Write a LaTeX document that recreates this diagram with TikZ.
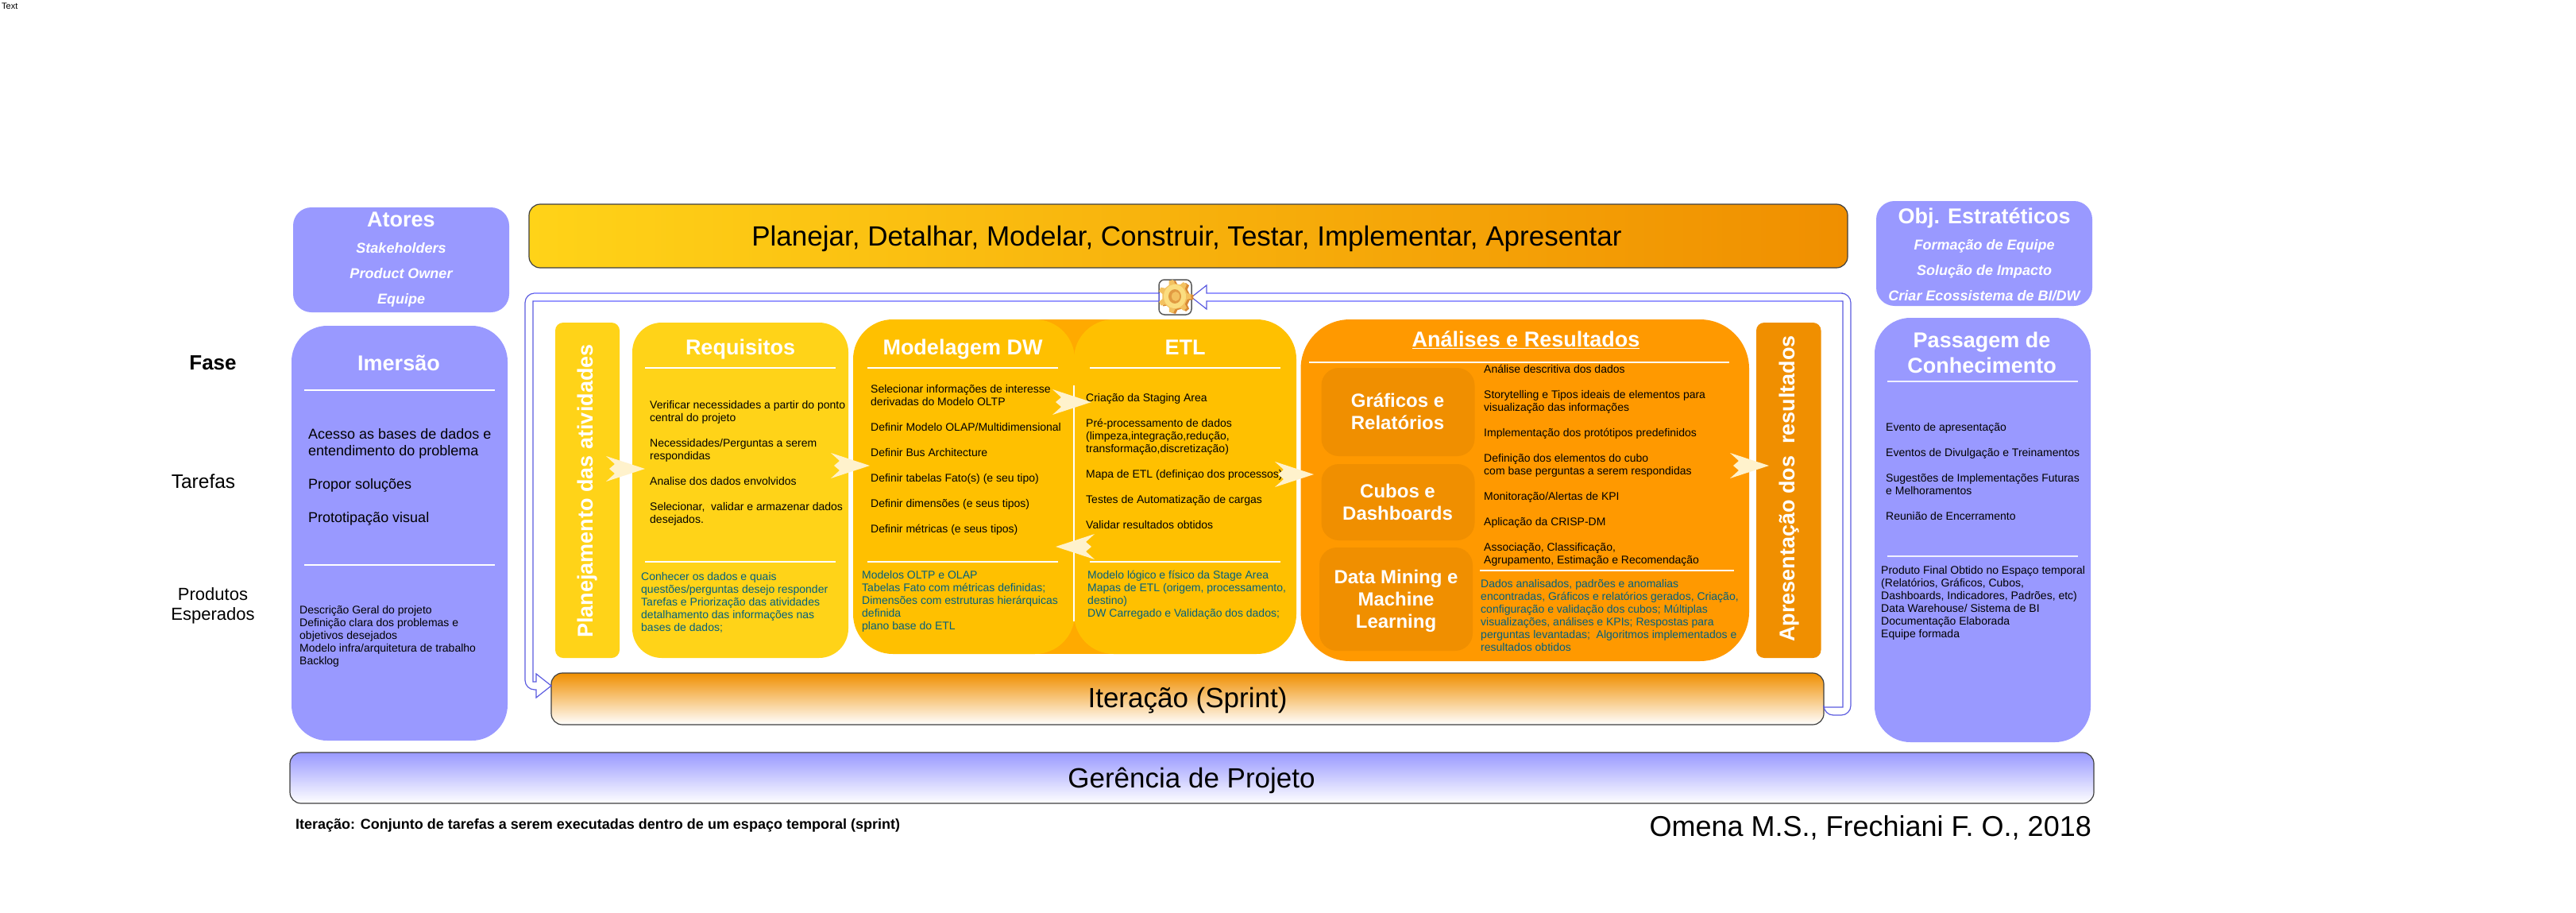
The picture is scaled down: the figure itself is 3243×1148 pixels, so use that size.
\documentclass[tikz,border=0pt]{standalone}
\usepackage{fontspec}
\setmainfont{Liberation Sans}
\definecolor{lilac}{HTML}{9999FF}
\definecolor{sunny}{HTML}{FFD318}
\definecolor{amber}{HTML}{FFC000}
\definecolor{amberdk}{HTML}{FFAA00}
\definecolor{tangerine}{HTML}{FF9900}
\definecolor{burnt}{HTML}{F08F00}
\definecolor{teal1}{HTML}{00607F}
\definecolor{cream}{HTML}{FFF2CC}
\definecolor{loopblue}{HTML}{5B5BE0}
\definecolor{gearlight}{HTML}{FBDD80}
\definecolor{gearmid}{HTML}{F3C160}
\definecolor{geardark}{HTML}{D98A35}
\usetikzlibrary{calc}
\newcommand{\rbox}[6][]{\node[rboxbase,#1,minimum width={(#4-#2)*1pt},minimum height={(#5-#3)*1pt}] (#6) at ({(#2+#4)/2},{(#3+#5)/2}) {};}
\newcommand{\fletch}[4]{% tip x, y, direction (+1 points right), name
  \begin{scope}[shift={(#1,#2)},xscale=#3]
    \fill[cream] (-49,-16) -- (0,0) -- (-49,16) -- (-38,6) -- (-45,0) -- (-38,-6) -- cycle;
  \end{scope}}
\newcommand{\gearshape}[1]{\fill[#1] (0:20) \foreach \a in {0,51.43,...,310} {
       -- ({\a+7}:21) -- ({\a+14}:16) -- ({\a+37}:16) -- ({\a+44}:21)
     } -- cycle;}
\tikzset{
  rboxbase/.style={inner sep=0pt,outer sep=0pt},
  lilacbox/.style={fill=lilac},
  sep/.style={draw=white,line width=2pt},
  sepsoft/.style={draw=white!85!lilac,line width=2pt},
  bodytext/.style={inner sep=0pt,anchor=north west,align=left,text=black,font=\fontsize{14}{16}\selectfont},
  delivtext/.style={bodytext,text=teal1},
  largetext/.style={inner sep=0pt,anchor=north west,align=left,text=black,font=\fontsize{18}{21}\selectfont},
  titletext/.style={inner sep=0pt,align=center,text=white,font=\fontsize{27}{31}\selectfont\bfseries},
  subtext/.style={inner sep=0pt,text=white,font=\fontsize{18}{21}\selectfont\bfseries\itshape},
  vertitle/.style={inner sep=0pt,rotate=90,text=white,font=\fontsize{27}{31}\selectfont\bfseries},
  innertitle/.style={inner sep=0pt,align=center,text=white,font=\fontsize{24}{28}\selectfont\bfseries},
  bartext/.style={inner sep=0pt,text=black,font=\fontsize{35}{40}\selectfont},
  sidelabel/.style={inner sep=0pt,align=center,text=black},
  flex/.style={draw=loopblue,line width=1.2pt,fill=white,line join=miter},
  flexsoft/.style={draw=lilac,line width=2.4pt},
}
\begin{document}
\begin{tikzpicture}[x=1pt,y=-1pt]
\useasboundingbox (0,0) rectangle (3243,1148);
\fill[white] (0,0) rectangle (3243,1148);

\node[inner sep=0pt,anchor=west,font=\fontsize{11}{13}\selectfont] (corner) at (2,8) {Text};

% labels on the left
\node[sidelabel,font=\fontsize{26}{30}\selectfont\bfseries] (fase) at (268,457) {Fase};
\node[sidelabel,font=\fontsize{24.5}{28}\selectfont] (tarefas) at (256,606) {Tarefas};
\node[sidelabel,font=\fontsize{22}{25}\selectfont] (produtos) at (268,762.5) {Produtos\\Esperados};

% top bar
\rbox[draw=black!75,line width=1.2pt,rounded corners=14pt,left color=sunny,right color=burnt]{666}{257}{2326}{337}{planbar}
\node[bartext] (plantext) at (1494,300) {Planejar, Detalhar, Modelar, Construir, Testar, Implementar, Apresentar};

% gear box (its arrows come first so that the box lies on them)
\rbox[draw=black!65,line width=1.5pt,rounded corners=7pt,fill=white]{1459}{352}{1500}{396}{gearbox}
\rbox[draw=black!75,line width=1.2pt,rounded corners=14pt,top color=burnt,bottom color=white]{694}{847}{2296}{912}{iter}

% loop arrow: iteration bar round the right to the gear
\draw[flex] (gearbox.east) -- (1519,359) -- (1519,369) -- (2320,369)
  [rounded corners=12pt] -- (2330,369) -- (2330,900) -- (iter.east |- 0,900)
  [sharp corners] -- (iter.east |- 0,890) -- (2320,890) -- (2320,379) -- (1519,379) -- (1519,389) -- cycle;
\draw[flexsoft] (1520,369) -- (2318,369) (1520,379) -- (2318,379);
% loop arrow: gear round the left to the iteration bar
\draw[flex] (iter.west |- 0,863) -- (675,848) -- (675,858) -- (671,858) -- (671,379) -- (gearbox.west |- 0,379)
  -- (gearbox.west |- 0,369) [rounded corners=12pt] -- (661,369) -- (661,868) [sharp corners] -- (675,868) -- (675,878) -- cycle;
\draw[flexsoft] (672,369) -- (1458,369) (672,379) -- (1458,379);

% gear symbol
\begin{scope}[shift={(1482,374)}]
  \gearshape{geardark}
\end{scope}
\begin{scope}[shift={(1479,373)}]
  \gearshape{gearmid}
  \fill[gearlight] (0,0) circle[x radius=14,y radius=15];
  \fill[geardark!70!gearmid] (0,0) circle[x radius=8,y radius=9];
  \fill[gearmid] (1,0) circle[x radius=5,y radius=6];
\end{scope}

% actors and objectives
\rbox[lilacbox,rounded corners=23pt]{369}{261}{641}{393}{atores}
\node[titletext] (atorest) at (505,279) {\strut Atores};
\node[subtext] (at1) at (505,314) {\strut Stakeholders};
\node[subtext] (at2) at (505,346) {\strut Product Owner};
\node[subtext] (at3) at (505,378) {\strut Equipe};

\rbox[lilacbox,rounded corners=23pt]{2362}{253}{2634}{385}{obj}
\node[titletext] (objt) at (2498,275) {\strut Obj. Estratéticos};
\node[subtext] (ob1) at (2498,310) {\strut Formação de Equipe};
\node[subtext] (ob2) at (2498,342) {\strut Solução de Impacto};
\node[subtext] (ob3) at (2498,374) {\strut Criar Ecossistema de BI/DW};

% Imersao
\rbox[lilacbox,rounded corners=45pt]{367}{410}{639}{932}{imersao}
\node[titletext] (imt) at (502,460) {\strut Imersão};
\draw[sep] (383,491) -- (623,491) (383,711) -- (623,711);
\node[largetext] (imlist) at (388,538) {\strut Acesso as bases de dados e\\entendimento do problema\\[21pt]Propor soluções\\[21pt]Prototipação visual};
\node[bodytext] (imdel) at (377,761) {\strut Descrição Geral do projeto\\Definição clara dos problemas e\\objetivos desejados\\Modelo infra/arquitetura de trabalho\\Backlog};

% Passagem
\rbox[lilacbox,rounded corners=45pt]{2360}{400}{2632}{934}{passagem}
\node[titletext,font=\fontsize{27}{32}\selectfont\bfseries] (pat) at (2495,447.5) {\strut Passagem de\\\strut Conhecimento};
\draw[sepsoft] (2376,480) -- (2616,480) (2376,700) -- (2616,700);
\node[bodytext] (palist) at (2374,531) {\strut Evento de apresentação\\[16pt]Eventos de Divulgação e Treinamentos\\[16pt]Sugestões de Implementações Futuras\\e Melhoramentos\\[16pt]Reunião de Encerramento};
\node[bodytext] (padel) at (2368,711) {\strut Produto Final Obtido no Espaço temporal\\(Relatórios, Gráficos, Cubos,\\Dashboards, Indicadores, Padrões, etc)\\Data Warehouse/ Sistema de BI\\Documentação Elaborada\\Equipe formada};

% Planejamento
\rbox[fill=sunny,rounded corners=10pt]{699}{406}{780}{828}{planej}
\node[vertitle] (planejt) at (740,618) {\strut Planejamento das atividades};

% Requisitos
\rbox[fill=sunny,rounded corners=37pt]{796}{406}{1068}{828}{requisitos}
\node[titletext] (rqt) at (932,440) {\strut Requisitos};
\draw[sep] (812,463) -- (1052,463) (812,707) -- (1052,707);
\node[bodytext] (rqlist) at (818,503.5) {\strut Verificar necessidades a partir do ponto\\central do projeto\\[16pt]Necessidades/Perguntas a serem\\respondidas\\[16pt]Analise dos dados envolvidos\\[16pt]Selecionar,\ \ validar e armazenar dados\\desejados.};
\node[delivtext] (rqdel) at (807,719) {\strut Conhecer os dados e quais\\questões/perguntas desejo responder\\Tarefas e Priorização das atividades\\detalhamento das informações nas\\bases de dados;};

% Modelagem + ETL
\fill[amberdk] (1303,402) rectangle (1400,823);
\rbox[fill=amber,rounded corners=50pt]{1074}{402}{1353}{823}{modelagem}
\rbox[fill=amber,rounded corners=50pt]{1352}{402}{1632}{823}{etl}
\draw[sep] (1352,485) -- (1352,782);
\node[titletext] (mdt) at (1212,440) {\strut Modelagem DW};
\node[titletext] (etlt) at (1492,440) {\strut ETL};
\draw[sep] (1092,463) -- (1332,463) (1092,707) -- (1332,707) (1372,463) -- (1612,463) (1372,707) -- (1612,707);
\node[bodytext] (mdlist) at (1096,483.5) {\strut Selecionar informações de interesse\\derivadas do Modelo OLTP\\[16pt]Definir Modelo OLAP/Multidimensional\\[16pt]Definir Bus Architecture\\[16pt]Definir tabelas Fato(s) (e seu tipo)\\[16pt]Definir dimensões (e seus tipos)\\[16pt]Definir métricas (e seus tipos)};
\node[delivtext] (mddel) at (1085,717) {\strut Modelos OLTP e OLAP\\Tabelas Fato com métricas definidas;\\Dimensões com estruturas hierárquicas\\definida\\plano base do ETL};
\node[bodytext] (etllist) at (1367,494.5) {\strut Criação da Staging Area\\[16pt]Pré-processamento de dados\\(limpeza,integração,redução,\\transformação,discretização)\\[16pt]Mapa de ETL (definiçao dos processos)\\[16pt]Testes de Automatização de cargas\\[16pt]Validar resultados obtidos};
\node[delivtext] (etldel) at (1369,717) {\strut Modelo lógico e físico da Stage Area\\Mapas de ETL (origem, processamento,\\destino)\\DW Carregado e Validação dos dados;};

% Analises
\rbox[fill=tangerine,rounded corners=62pt]{1637.5}{402}{2202}{832}{analises}
\node[titletext] (ant) at (1921,428) {\underline{Análises e Resultados}};
\draw[sep] (1647.5,456) -- (2177,456) (1863,718) -- (2183,718);
\rbox[fill=burnt,rounded corners=22pt]{1663.5}{463}{1856.5}{574}{graficos}
\rbox[fill=burnt,rounded corners=22pt]{1663.5}{584}{1856.5}{680}{cubos}
\rbox[fill=burnt,rounded corners=22pt]{1661}{689}{1854}{819}{mining}
\node[innertitle] (grt) at (1759.5,520.5) {\strut Gráficos e\\\strut Relatórios};
\node[innertitle] (cut) at (1759.5,634.5) {\strut Cubos e\\\strut Dashboards};
\node[innertitle] (dmt) at (1757.5,757) {\strut Data Mining e\\\strut Machine\\\strut Learning};
\node[bodytext] (anlist) at (1868,458) {\strut Análise descritiva dos dados\\[16pt]Storytelling e Tipos ideais de elementos para\\visualização das informações\\[16pt]Implementação dos protótipos predefinidos\\[16pt]Definição dos elementos do cubo\\com base perguntas a serem respondidas\\[16pt]Monitoração/Alertas de KPI\\[16pt]Aplicação da CRISP-DM\\[16pt]Associação, Classificação,\\Agrupamento, Estimação e Recomendação};
\node[delivtext] (andel) at (1864,728) {\strut Dados analisados, padrões e anomalias\\encontradas, Gráficos e relatórios gerados, Criação,\\configuração e validação dos cubos; Múltiplas\\visualizações, análises e KPIs; Respostas para\\perguntas levantadas;\ \ Algoritmos implementados e\\resultados obtidos};

% Apresentacao
\rbox[fill=burnt,rounded corners=10pt]{2211}{406}{2292.5}{828}{apres}
\node[vertitle] (apt) at (2253,615) {\strut Apresentação dos\ \ resultados};

% bar texts
\node[bartext] (itert) at (1495,882) {Iteração (Sprint)};
\rbox[draw=black!75,line width=1.2pt,rounded corners=14pt,top color=lilac,bottom color=white]{365}{947}{2636}{1011}{gerencia}
\node[bartext] (gert) at (1500,982) {Gerência de Projeto};

% footer
\node[inner sep=0pt,anchor=west,font=\fontsize{18}{21}\selectfont\bfseries] (foot) at (372,1039) {Iteração: Conjunto de tarefas a serem executadas dentro de um espaço temporal (sprint)};
\node[inner sep=0pt,anchor=east,font=\fontsize{36}{40}\selectfont] (cred) at (2633,1042) {Omena M.S., Frechiani F. O., 2018};

% process arrows
\fletch{812}{590}{1}{a1}
\fletch{1095}{586}{1}{a2}
\fletch{1374}{506}{1}{a3}
\fletch{1329}{688}{-1}{a4}
\fletch{1654}{597}{1}{a5}
\fletch{2227}{586}{1}{a6}
\end{tikzpicture}
\end{document}
